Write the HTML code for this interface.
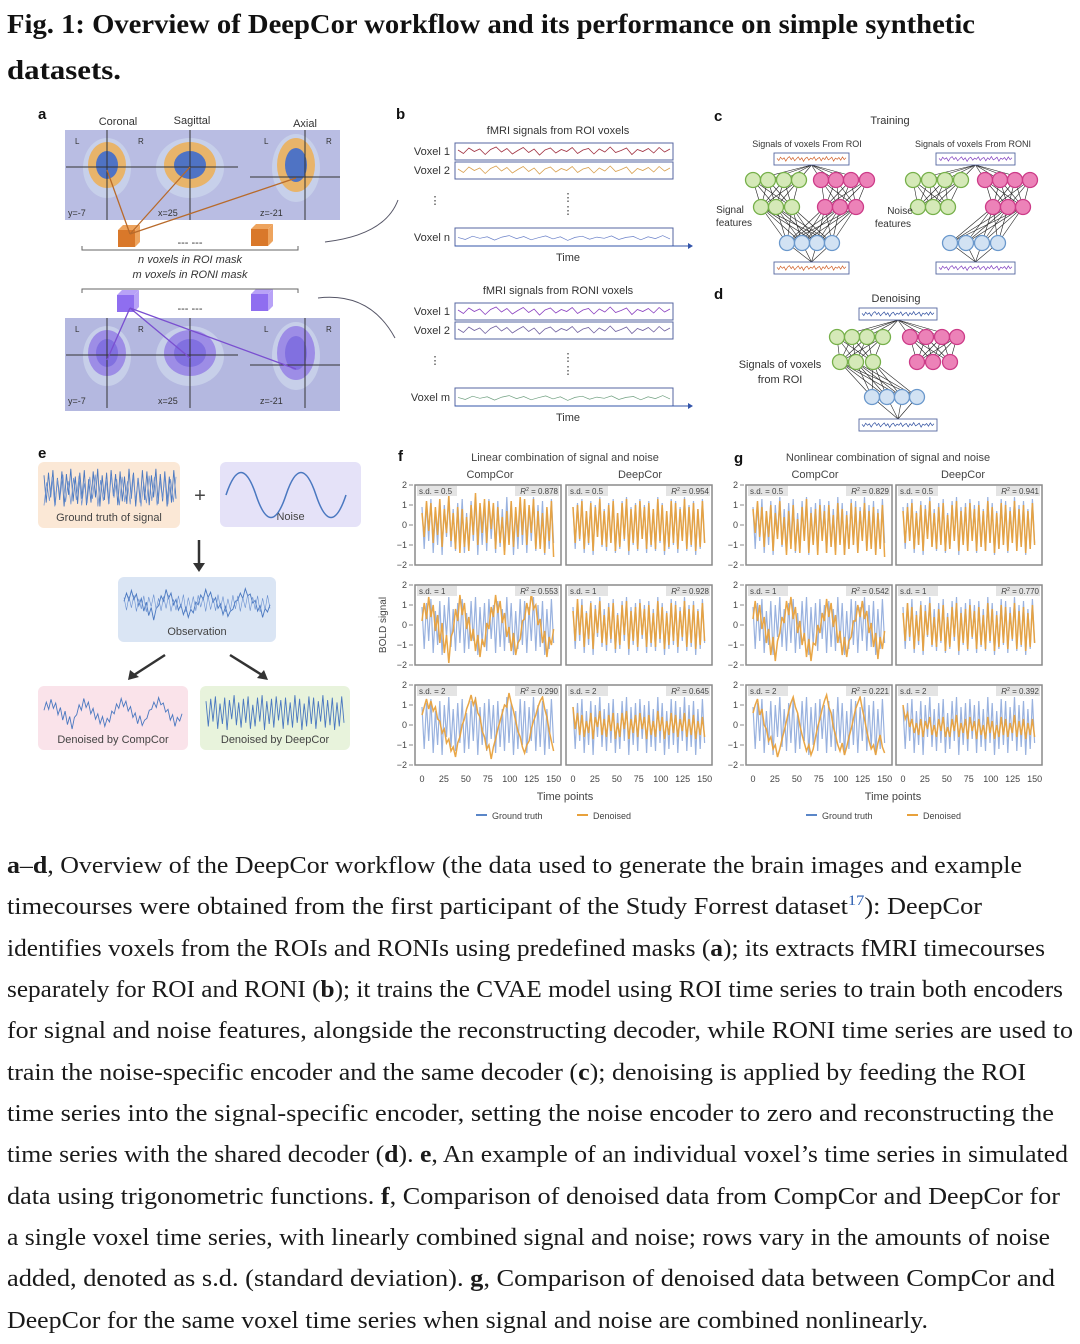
<!DOCTYPE html>
<html><head><meta charset="utf-8"><style>
html,body{margin:0;padding:0;background:#fff;}
svg{display:block;}
.sans{font-family:"Liberation Sans",sans-serif;}
.serif{font-family:"Liberation Serif",serif;}
</style></head><body>
<svg id="fig" width="1080" height="1344" viewBox="0 0 1080 1344" xmlns="http://www.w3.org/2000/svg">
<g class="serif" font-weight="bold" font-size="27" fill="#111">
<text x="7" y="33" textLength="968" lengthAdjust="spacingAndGlyphs">Fig. 1: Overview of DeepCor workflow and its performance on simple synthetic</text>
<text x="7" y="79" textLength="114" lengthAdjust="spacingAndGlyphs">datasets.</text>
</g>
<g class="sans" font-weight="bold" font-size="15" fill="#111">
<text x="38" y="119">a</text><text x="396" y="119">b</text><text x="714" y="121">c</text><text x="714" y="299">d</text>
<text x="38" y="458">e</text><text x="398" y="461">f</text><text x="734" y="463">g</text>
</g>
<g id="panelA" class="sans" font-size="11" fill="#333"></g>
<g id="panelB" class="sans" font-size="11" fill="#333"></g>
<g id="panelCD" class="sans" font-size="10" fill="#333"></g>
<g id="panelE" class="sans" font-size="11" fill="#444"></g>
<g id="charts" class="sans" font-size="9" fill="#444"></g>
<g class="serif" font-size="24" fill="#1a1a1a">
<text x="7" y="873" textLength="1015" lengthAdjust="spacingAndGlyphs"><tspan font-weight="bold">a</tspan>–<tspan font-weight="bold">d</tspan>, Overview of the DeepCor workflow (the data used to generate the brain images and example</text>
<text x="7" y="914" textLength="975" lengthAdjust="spacingAndGlyphs">timecourses were obtained from the first participant of the Study Forrest dataset<tspan fill="#2a5db0" font-size="15" dy="-9">17</tspan><tspan dy="9">): DeepCor</tspan></text>
<text x="7" y="956" textLength="1038" lengthAdjust="spacingAndGlyphs">identifies voxels from the ROIs and RONIs using predefined masks (<tspan font-weight="bold">a</tspan>); its extracts fMRI timecourses</text>
<text x="7" y="997" textLength="1056" lengthAdjust="spacingAndGlyphs">separately for ROI and RONI (<tspan font-weight="bold">b</tspan>); it trains the CVAE model using ROI time series to train both encoders</text>
<text x="7" y="1038" textLength="1066" lengthAdjust="spacingAndGlyphs">for signal and noise features, alongside the reconstructing decoder, while RONI time series are used to</text>
<text x="7" y="1080" textLength="1019" lengthAdjust="spacingAndGlyphs">train the noise-specific encoder and the same decoder (<tspan font-weight="bold">c</tspan>); denoising is applied by feeding the ROI</text>
<text x="7" y="1121" textLength="1047" lengthAdjust="spacingAndGlyphs">time series into the signal-specific encoder, setting the noise encoder to zero and reconstructing the</text>
<text x="7" y="1162" textLength="1061" lengthAdjust="spacingAndGlyphs">time series with the shared decoder (<tspan font-weight="bold">d</tspan>). <tspan font-weight="bold">e</tspan>, An example of an individual voxel’s time series in simulated</text>
<text x="7" y="1204" textLength="1053" lengthAdjust="spacingAndGlyphs">data using trigonometric functions. <tspan font-weight="bold">f</tspan>, Comparison of denoised data from CompCor and DeepCor for</text>
<text x="7" y="1245" textLength="1043" lengthAdjust="spacingAndGlyphs">a single voxel time series, with linearly combined signal and noise; rows vary in the amounts of noise</text>
<text x="7" y="1286" textLength="1048" lengthAdjust="spacingAndGlyphs">added, denoted as s.d. (standard deviation). <tspan font-weight="bold">g</tspan>, Comparison of denoised data between CompCor and</text>
<text x="7" y="1328" textLength="921" lengthAdjust="spacingAndGlyphs">DeepCor for the same voxel time series when signal and noise are combined nonlinearly.</text>
</g>
</svg>
<script>
// ---- chart data (panels f and g) ----
const timeTicks = [0,25,50,75,100,125,150];
const yTicks = [2,1,0,-1,-2];
const sdLabels = ["0.5","1","2"];
const r2Linear = {compcor:["0.878","0.553","0.290"], deepcor:["0.954","0.928","0.645"]};
const r2Nonlinear = {compcor:["0.829","0.542","0.221"], deepcor:["0.941","0.770","0.392"]};
const groundTruth = [0.9,-1.2,1.1,-0.8,1.3,-1.4,0.7,-1.0,1.2,-1.5,1.0,-0.6,1.4,-1.1,0.8,-1.3,1.1,-0.9,1.3,-1.4,0.6,-1.2,1.2,-0.8,1.4,-1.5,0.9,-1.0,1.1,-1.3,1.3,-0.7,1.0,-1.4,1.2,-1.1,0.8,-1.3,1.4,-0.9,1.1,-1.5,0.7,-1.2,1.3,-1.0,1.2,-1.4,0.9,-0.8,1.4,-1.3,1.0,-1.1,1.2,-1.5,0.8,-1.2,1.3,-0.9];
const fCompCor05 = [0.6,-0.6,1.2,-0.3,1.1,-0.9,0.9,-0.5,1.3,-1.1,0.8,-0.4,1.5,-0.8,0.6,-1.2,0.9,-1.4,0.8,-1.1,0.4,-1.3,1.0,-0.5,1.6,-1.0,1.1,-0.4,1.3,-0.9,1.2,-0.2,1.1,-1.2,0.9,-0.9,0.4,-1.5,0.7,-1.0,1.2,-1.1,0.9,-0.6,1.4,-0.5,1.3,-1.0,1.0,-0.4,1.3,-1.2,0.7,-1.2,0.6,-1.4,0.9,-0.8,1.2,-1.6];
const fDeepCor05 = [0.9,-0.9,1.0,-0.7,1.2,-1.2,0.7,-0.9,1.1,-1.3,0.9,-0.6,1.3,-1.0,0.7,-1.1,1.0,-0.9,1.2,-1.3,0.6,-1.1,1.1,-0.7,1.3,-1.3,0.8,-0.9,1.0,-1.2,1.2,-0.7,0.9,-1.2,1.1,-1.0,0.8,-1.2,1.3,-0.8,1.0,-1.3,0.7,-1.1,1.2,-0.9,1.1,-1.2,0.8,-0.8,1.3,-1.2,0.9,-1.0,1.1,-1.3,0.8,-1.1,1.2,-0.9];
const fCompCor1 = [0.2,1.1,0.3,1.4,0.4,1.0,-0.3,0.5,-0.9,0.1,-1.4,-0.5,-1.9,-0.6,-0.3,0.8,0.2,1.5,0.5,1.1,-0.2,0.4,-0.8,-0.2,-1.3,-0.5,-1.6,-0.7,-1.1,0.1,-0.2,0.9,0.4,1.5,0.6,1.2,0.1,0.6,-0.6,-0.1,-1.3,-0.4,-1.5,-0.9,-0.7,0.2,0.3,1.1,0.5,1.6,0.8,1.0,0.0,0.3,-0.9,-0.3,-1.6,-0.6,-1.0,-0.2];
const fDeepCor1 = [0.7,-0.8,1.3,-0.5,1.0,-1.1,0.6,-0.7,1.1,-1.2,0.8,-0.4,1.2,-0.9,0.5,-1.0,0.9,-0.7,1.1,-1.2,0.5,-1.0,1.0,-0.5,1.2,-1.2,0.7,-0.8,0.9,-1.1,1.1,-0.5,0.8,-1.1,1.0,-0.9,0.6,-1.1,1.2,-0.7,0.9,-1.2,0.6,-1.0,1.1,-0.8,1.0,-1.1,0.7,-0.6,1.2,-1.1,0.8,-0.9,1.0,-1.2,0.7,-1.0,1.1,-0.8];
const fCompCor2 = [0.5,0.9,1.3,0.8,1.2,0.7,0.9,0.3,0.2,-0.4,-0.2,-0.9,-0.7,-1.3,-1.1,-1.6,-0.9,-0.6,0.0,0.3,0.8,1.1,1.5,1.0,1.3,0.6,0.4,-0.3,-0.6,-1.2,-1.0,-1.7,-1.1,-0.7,-0.2,0.2,0.6,1.0,0.9,1.6,1.1,0.7,0.2,-0.3,-0.6,-1.1,-1.4,-1.0,-0.8,-0.2,0.2,0.5,0.9,1.2,1.4,0.8,0.4,-0.3,-0.8,-1.3];
const fDeepCor2 = [0.9,-0.2,0.6,-0.5,0.5,-0.6,0.2,-0.4,0.6,-0.7,0.4,-0.1,0.7,-0.5,0.3,-0.6,0.5,-0.3,0.6,-0.7,0.1,-0.6,0.6,-0.2,0.7,-0.7,0.3,-0.4,0.5,-0.6,0.6,-0.2,0.4,-0.7,0.5,-0.5,0.2,-0.6,0.7,-0.3,0.4,-0.7,0.2,-0.5,0.6,-0.4,0.5,-0.6,0.3,-0.3,0.6,-0.6,0.3,-0.5,0.5,-0.7,0.2,-0.5,0.4,-0.6];
const gCompCor05 = [0.8,-0.4,1.2,-0.6,0.9,-1.1,0.7,-0.6,1.0,-1.3,0.6,-0.7,1.2,-1.0,0.4,-1.5,0.7,-1.2,1.0,-1.3,0.3,-1.4,0.9,-0.8,1.3,-1.4,0.6,-1.0,0.8,-1.5,1.0,-0.8,0.7,-1.4,1.0,-1.1,0.5,-1.5,1.1,-1.0,0.8,-1.5,0.5,-1.2,1.1,-1.0,0.9,-1.4,0.7,-0.8,1.1,-1.3,0.7,-1.2,0.9,-1.5,0.6,-1.2,1.0,-1.6];
const gDeepCor05 = [0.7,-0.9,0.9,-0.8,1.1,-1.2,0.6,-1.0,1.0,-1.3,0.8,-0.7,1.2,-1.1,0.6,-1.2,0.9,-1.0,1.1,-1.3,0.5,-1.2,1.0,-0.8,1.2,-1.3,0.7,-1.0,0.9,-1.3,1.1,-0.8,0.8,-1.3,1.0,-1.1,0.7,-1.3,1.2,-0.9,0.9,-1.4,0.6,-1.2,1.1,-1.0,1.0,-1.3,0.7,-0.9,1.2,-1.3,0.8,-1.1,1.0,-1.4,0.7,-1.2,1.1,-1.0];
const gCompCor1 = [0.3,1.2,0.2,1.0,-0.2,0.4,-0.9,-0.2,-1.5,-0.6,-1.8,-0.8,-0.4,0.4,0.1,1.2,0.5,1.4,0.3,0.9,-0.4,0.2,-1.0,-0.4,-1.6,-0.7,-1.8,-0.9,-1.0,0.0,-0.4,0.6,0.2,1.3,0.4,1.1,-0.1,0.5,-0.9,-0.3,-1.5,-0.6,-1.6,-0.8,-0.6,0.2,0.2,1.0,0.4,1.2,0.3,0.7,-0.4,0.1,-1.1,-0.4,-1.7,-0.6,-1.2,-0.3];
const gDeepCor1 = [0.6,-0.8,1.1,-0.6,0.9,-1.2,0.5,-0.8,1.0,-1.3,0.7,-0.5,1.1,-1.0,0.4,-1.1,0.8,-0.8,1.0,-1.3,0.4,-1.1,0.9,-0.6,1.1,-1.3,0.6,-0.9,0.8,-1.2,1.0,-0.6,0.7,-1.2,0.9,-1.0,0.5,-1.2,1.1,-0.8,0.8,-1.3,0.5,-1.1,1.0,-0.9,0.9,-1.2,0.6,-0.7,1.1,-1.2,0.7,-1.0,0.9,-1.3,0.6,-1.1,1.0,-0.9];
const gCompCor2 = [0.6,1.0,1.3,0.5,0.8,0.0,-0.2,-0.8,-0.6,-1.2,-1.0,-1.6,-1.2,-0.7,-0.3,0.2,0.7,1.1,1.4,0.9,0.6,0.0,-0.5,-0.9,-1.3,-1.0,-1.5,-1.2,-0.6,-0.1,0.3,0.8,1.2,1.5,0.9,0.6,-0.1,-0.5,-1.0,-1.3,-0.9,-1.5,-1.1,-0.6,-0.2,0.3,0.8,1.1,1.4,0.8,0.3,-0.3,-0.8,-1.2,-1.0,-1.5,-0.9,-0.5,-1.1,-1.4];
const gDeepCor2 = [1.0,0.3,0.6,-0.1,0.3,-0.4,0.1,-0.5,0.3,-0.6,0.2,-0.2,0.4,-0.5,0.0,-0.6,0.3,-0.3,0.4,-0.6,-0.1,-0.6,0.3,-0.3,0.5,-0.6,0.1,-0.4,0.3,-0.7,0.4,-0.3,0.2,-0.7,0.3,-0.5,0.0,-0.7,0.4,-0.4,0.2,-0.7,0.0,-0.6,0.4,-0.5,0.3,-0.6,0.1,-0.4,0.5,-0.6,0.2,-0.5,0.3,-0.7,0.1,-0.5,0.3,-0.6];
// decorative squiggle for diagram signal boxes
const squiggle = [0.2,-0.5,0.6,-0.1,0.4,-0.7,0.3,0.8,-0.2,0.5,-0.6,0.1,0.7,-0.3,0.4,-0.8,0.2,0.6,-0.4,0.3,-0.1,0.7,-0.5,0.2,0.5,-0.6,0.4,-0.2,0.8,-0.3,0.1,0.6,-0.7,0.3,-0.1,0.5,-0.4,0.7,-0.2,0.4];

const NS="http://www.w3.org/2000/svg";
function mk(parent,tag,attrs,text){const e=document.createElementNS(NS,tag);for(const k in attrs)e.setAttribute(k,attrs[k]);if(text!==undefined)e.textContent=text;parent.appendChild(e);return e;}
function wave(parent,data,x0,x1,yc,amp,color,w){
  let d="";data.forEach((v,i)=>{const x=x0+(x1-x0)*i/(data.length-1);const y=yc-v*amp;d+=(i?"L":"M")+x.toFixed(1)+" "+y.toFixed(1);});
  const p=mk(parent,"path",{d:d,fill:"none",stroke:color,"stroke-width":w||0.8});
  
  
  return p;
}

// ---- Panel A ----
(function(){
  const g=document.getElementById('panelA');
  mk(g,"text",{x:118,y:125,"text-anchor":"middle"},"Coronal");
  mk(g,"text",{x:192,y:124,"text-anchor":"middle"},"Sagittal");
  mk(g,"text",{x:305,y:127,"text-anchor":"middle"},"Axial");
  function brainRow(y0,roi){
    const r=mk(g,"rect",{x:65,y:y0,width:275,height:y0>200?93:90,fill:roi?"#b9bde3":"#b4b8e0"});
    
    
    const cx=[107,190,296];
    cx.forEach((x,i)=>{
      mk(g,"ellipse",{cx:x,cy:y0+38,rx:i==1?34:24,ry:i==2?34:30,fill:"#c9d2ea",opacity:0.9});
      mk(g,"ellipse",{cx:x,cy:y0+35,rx:i==1?26:19,ry:i==2?27:23,fill:roi?"#e8b46a":"#9d8de6"});
      mk(g,"ellipse",{cx:x,cy:y0+35,rx:i==1?16:11,ry:i==2?17:14,fill:roi?"#4f73c4":"#8170e0"});
    });
    [[107],[190],[305]].forEach((a,i)=>mk(g,"line",{x1:a[0],y1:y0,x2:a[0],y2:y0+90,stroke:"#333","stroke-width":1}));
    mk(g,"line",{x1:66,y1:y0+37,x2:147,y2:y0+37,stroke:"#333"});
    mk(g,"line",{x1:147,y1:y0+37,x2:238,y2:y0+37,stroke:"#333"});
    mk(g,"line",{x1:250,y1:y0+47,x2:340,y2:y0+47,stroke:"#333"});
    mk(g,"text",{x:75,y:y0+14,"font-size":8},"L");mk(g,"text",{x:138,y:y0+14,"font-size":8},"R");
    mk(g,"text",{x:264,y:y0+14,"font-size":8},"L");mk(g,"text",{x:326,y:y0+14,"font-size":8},"R");
    mk(g,"text",{x:68,y:y0+86,"font-size":9},"y=-7");mk(g,"text",{x:158,y:y0+86,"font-size":9},"x=25");mk(g,"text",{x:260,y:y0+86,"font-size":9},"z=-21");
  }
  brainRow(130,true); brainRow(318,false);
  function cube(x,y,c1,c2){mk(g,"rect",{x:x,y:y,width:17,height:17,fill:c1});mk(g,"polygon",{points:`${x},${y} ${x+5},${y-5} ${x+22},${y-5} ${x+17},${y}`,fill:c2});mk(g,"polygon",{points:`${x+17},${y} ${x+22},${y-5} ${x+22},${y+12} ${x+17},${y+17}`,fill:c2});}
  cube(118,230,"#d9782a","#eea45e");cube(251,229,"#d9782a","#eea45e");
  cube(117,295,"#8f6ef0","#b8a2f7");cube(251,294,"#8f6ef0","#b8a2f7");
  [[107,170],[190,167],[296,178]].forEach(p=>mk(g,"line",{x1:p[0],y1:p[1],x2:130,y2:234,stroke:"#b86a2a","stroke-width":1.3}));
  [[107,360],[190,358],[296,369]].forEach(p=>mk(g,"line",{x1:p[0],y1:p[1],x2:130,y2:308,stroke:"#7a4fd0","stroke-width":1.3}));
  mk(g,"text",{x:190,y:246,"text-anchor":"middle"},"--- ---");
  mk(g,"text",{x:190,y:312,"text-anchor":"middle"},"--- ---");
  mk(g,"path",{d:"M82 246 v4 h216 v-4",fill:"none",stroke:"#666"});
  mk(g,"path",{d:"M82 293 v-4 h216 v4",fill:"none",stroke:"#666"});
  mk(g,"text",{x:190,y:263,"text-anchor":"middle","font-style":"italic"},"n voxels in ROI mask");
  mk(g,"text",{x:190,y:278,"text-anchor":"middle","font-style":"italic"},"m voxels in RONI mask");
  mk(g,"path",{d:"M325 242 Q385 235 398 200",fill:"none",stroke:"#556","stroke-width":1});
  mk(g,"path",{d:"M318 298 Q370 292 395 338",fill:"none",stroke:"#556","stroke-width":1});
})();

// ---- Panel B ----
(function(){
  const g=document.getElementById('panelB');
  function block(y0,title,cols,lastLab,lastCol){
    mk(g,"text",{x:558,y:y0,"text-anchor":"middle"},title);
    [[y0+9,"Voxel 1",cols[0]],[y0+28,"Voxel 2",cols[1]]].forEach(r=>{
      mk(g,"rect",{x:455,y:r[0],width:218,height:17,fill:"#fff",stroke:"#5566a0","stroke-width":1});
      mk(g,"text",{x:450,y:r[0]+12,"text-anchor":"end"},r[1]);
      wave(g,squiggle,458,670,r[0]+8,5,r[2],0.8);
    });
    mk(g,"text",{x:435,y:y0+70,"text-anchor":"middle"},"⋮");
    mk(g,"text",{x:568,y:y0+67,"text-anchor":"middle"},"⋮");
    mk(g,"text",{x:568,y:y0+80,"text-anchor":"middle"},"⋮");
    mk(g,"rect",{x:455,y:y0+94,width:218,height:18,fill:"#fff",stroke:"#5566a0","stroke-width":1});
    mk(g,"path",{d:`M455 ${y0+112} H688`,stroke:"#3355aa","stroke-width":1});
    mk(g,"polygon",{points:`688,${y0+109} 693,${y0+112} 688,${y0+115}`,fill:"#3355aa"});
    mk(g,"text",{x:450,y:y0+107,"text-anchor":"end"},lastLab);
    wave(g,squiggle.slice(0,30),458,670,y0+104,3,lastCol,0.7);
    mk(g,"text",{x:568,y:y0+127,"text-anchor":"middle"},"Time");
  }
  block(134,"fMRI signals from ROI voxels",["#a03040","#d8a050"],"Voxel n","#6a80c8");
  block(294,"fMRI signals from RONI voxels",["#8a40c0","#7060a0"],"Voxel m","#70a080");
})();

// ---- Panels C & D ----
(function(){
  const g=document.getElementById('panelCD');
  const GF="#d5e9b8",GS="#76b04a",PF="#ec82b8",PS="#cc3b88",BF="#d2e2f3",BS="#6a98cc";
  function net(top,bot,gr1,pk1,gr2,pk2,bl,y1,y2,y3,links,sqCol){
    const ln=(a,b,c,d)=>mk(g,"line",{x1:a,y1:b,x2:c,y2:d,stroke:"#222","stroke-width":0.6});
    const tc=(top[0]+top[1])/2;
    [...gr1,...pk1].forEach(x=>ln(tc,top[2]+12,x,y1));
    gr1.forEach(a=>gr2.forEach(b=>ln(a,y1,b,y2)));
    pk1.forEach(a=>pk2.forEach(b=>ln(a,y1,b,y2)));
    if(links.g)gr2.forEach(a=>bl.forEach(b=>ln(a,y2,b,y3)));
    if(links.p)pk2.forEach(a=>bl.forEach(b=>ln(a,y2,b,y3)));
    if(bot){const bc=(bot[0]+bot[1])/2;bl.forEach(x=>ln(x,y3,bc,bot[2]));}
    const c=(x,y,f,s)=>mk(g,"circle",{cx:x,cy:y,r:7.5,fill:f,stroke:s,"stroke-width":1.3});
    gr1.forEach(x=>c(x,y1,GF,GS));pk1.forEach(x=>c(x,y1,PF,PS));
    gr2.forEach(x=>c(x,y2,GF,GS));pk2.forEach(x=>c(x,y2,PF,PS));
    bl.forEach(x=>c(x,y3,BF,BS));
    [top,bot].forEach(b=>{if(!b)return;mk(g,"rect",{x:b[0],y:b[2],width:b[1]-b[0],height:12,fill:"#fff",stroke:"#5566a0","stroke-width":0.9});wave(g,squiggle,b[0]+3,b[1]-3,b[2]+6,3,sqCol,0.7);});
  }
  mk(g,"text",{x:890,y:124,"text-anchor":"middle","font-size":11},"Training");
  mk(g,"text",{x:807,y:147,"text-anchor":"middle","font-size":9},"Signals of voxels From ROI");
  mk(g,"text",{x:973,y:147,"text-anchor":"middle","font-size":9},"Signals of voxels From RONI");
  net([774,849,153],[774,849,262],[753,768,784,799],[821,836,851,867],[761,776,792],[825,840,856],[787,802,817,832],180,207,243,{g:1,p:1},"#d0602a");
  net([936,1015,153],[936,1015,262],[913,929,945,961],[985,1000,1015,1030],[918,933,948],[993,1008,1023],[950,966,982,998],180,207,243,{p:1},"#8040c0");
  mk(g,"text",{x:730,y:213,"text-anchor":"middle"},"Signal");mk(g,"text",{x:734,y:226,"text-anchor":"middle"},"features");
  mk(g,"text",{x:900,y:214,"text-anchor":"middle"},"Noise");mk(g,"text",{x:893,y:227,"text-anchor":"middle"},"features");
  mk(g,"text",{x:896,y:302,"text-anchor":"middle","font-size":11},"Denoising");
  net([859,937,308],[859,937,419],[837,852,867,883],[910,926,942,957],[840,856,873],[917,933,950],[872,887,902,917],337,362,397,{g:1},"#3050a0");
  mk(g,"text",{x:780,y:368,"text-anchor":"middle","font-size":11},"Signals of voxels");
  mk(g,"text",{x:780,y:383,"text-anchor":"middle","font-size":11},"from ROI");
})();

// ---- Panel E ----
(function(){
  const g=document.getElementById('panelE');
  function box(x,y,w,h,fill,label,name){const r=mk(g,"rect",{x:x,y:y,width:w,height:h,rx:6,fill:fill});if(label)mk(g,"text",{x:x+w/2,y:y+h-7,"text-anchor":"middle"},label);return r;}
  box(38,462,142,66,"#fbe8d6","Ground truth of signal","ground-truth-box");
  wave(g,groundTruth,44,176,487,13,"#4a78c0",0.9);
  wave(g,groundTruth.slice(5,55),44,176,490,11,"#6a90d0",0.7);
  box(220,462,141,65,"#e5e2f8","Noise","noise-box");
  mk(g,"path",{d:"M226 495 C236 465 246 465 256 495 S276 525 286 495 S306 465 316 495 S336 525 346 495",fill:"none",stroke:"#4a78c0","stroke-width":1.5});
  mk(g,"text",{x:200,y:502,"text-anchor":"middle","font-size":20},"+");
  mk(g,"line",{x1:199,y1:540,x2:199,y2:565,stroke:"#333","stroke-width":2.5});
  mk(g,"polygon",{points:"193,563 205,563 199,572",fill:"#333"});
  box(118,577,158,65,"#dae5f4","Observation","observation-box");
  wave(g,fCompCor1,124,270,603,9,"#4a78c0",0.9);
  wave(g,groundTruth,124,270,603,6,"#6a90d0",0.6);
  mk(g,"line",{x1:165,y1:655,x2:134,y2:675,stroke:"#333","stroke-width":2.5});
  mk(g,"polygon",{points:"130,670 128,680 139,677",fill:"#333"});
  mk(g,"line",{x1:230,y1:655,x2:262,y2:675,stroke:"#333","stroke-width":2.5});
  mk(g,"polygon",{points:"257,678 268,680 264,670",fill:"#333"});
  box(38,686,150,64,"#fae3ea","Denoised by CompCor","denoised-compcor-box");
  wave(g,fCompCor1,44,182,712,9,"#4a78c0",0.9);
  box(200,686,150,64,"#e8f3dc","Denoised by DeepCor","denoised-deepcor-box");
  wave(g,groundTruth,206,344,712,12,"#4a78c0",0.9);
})();

// ---- Panels F & G charts ----
(function(){
  const g=document.getElementById('charts');
  const W=146,H=80;
  const rowsY=[485,585,685];
  function panel(x0,y0,gt,den,sd,r2,name){
    const pg=mk(g,"g",{});
    
    
    const xs=t=>x0+7+t/155*(W-10);
    const ys=v=>y0+(2-v)/4*H;
    const line=(data,col,w,op)=>{let d="";data.forEach((v,i)=>{const t=i*150/(data.length-1);d+=(i?"L":"M")+xs(t).toFixed(1)+" "+ys(v).toFixed(1);});
      const p=mk(pg,"path",{d:d,fill:"none",stroke:col,"stroke-width":w,opacity:op});return p;};
    const gl=line(gt,"#8eaadb",1.2,0.9);
    const dl=line(den,"#e8a13c",1.5,0.95);
    mk(pg,"rect",{x:x0+2,y:y0+1,width:40,height:10,fill:"#e4e4e4"});
    mk(pg,"text",{x:x0+4,y:y0+9,"font-size":8,fill:"#444"},"s.d. = "+sd);
    mk(pg,"rect",{x:x0+W-46,y:y0+1,width:44,height:10,fill:"#e4e4e4"});
    const t=mk(pg,"text",{x:x0+W-3,y:y0+9,"font-size":8,fill:"#444","text-anchor":"end"});
    t.innerHTML='<tspan font-style="italic">R</tspan><tspan dy="-3" font-size="5">2</tspan><tspan dy="3"> = '+r2+'</tspan>';
    mk(pg,"rect",{x:x0,y:y0,width:W,height:H,fill:"none",stroke:"#8a8a8a","stroke-width":1.5});
    return {xs,ys};
  }
  function yAxis(xl,y0){yTicks.forEach(v=>{const y=y0+(2-v)/4*H;mk(g,"text",{x:xl,y:y+3,"text-anchor":"end","font-size":9},v<0?"−"+(-v):String(v));mk(g,"line",{x1:xl+2,y1:y,x2:xl+6,y2:y,stroke:"#888"});});}
  function xAxis(x0,y){timeTicks.forEach(t=>{const x=x0+7+t/155*(W-10);mk(g,"text",{x:x,y:y,"text-anchor":"middle","font-size":9},String(t));});}
  const fDen=[[fCompCor05,fDeepCor05],[fCompCor1,fDeepCor1],[fCompCor2,fDeepCor2]];
  const gDen=[[gCompCor05,gDeepCor05],[gCompCor1,gDeepCor1],[gCompCor2,gDeepCor2]];
  rowsY.forEach((y0,r)=>{
    panel(415,y0,groundTruth,fDen[r][0],sdLabels[r],r2Linear.compcor[r],"f-compcor-sd-"+sdLabels[r]);
    panel(566,y0,groundTruth,fDen[r][1],sdLabels[r],r2Linear.deepcor[r],"f-deepcor-sd-"+sdLabels[r]);
    panel(746,y0,groundTruth,gDen[r][0],sdLabels[r],r2Nonlinear.compcor[r],"g-compcor-sd-"+sdLabels[r]);
    panel(896,y0,groundTruth,gDen[r][1],sdLabels[r],r2Nonlinear.deepcor[r],"g-deepcor-sd-"+sdLabels[r]);
    yAxis(407,y0);yAxis(738,y0);
  });
  [415,566,746,896].forEach(x=>xAxis(x,782));
  mk(g,"text",{x:565,y:461,"text-anchor":"middle","font-size":11},"Linear combination of signal and noise");
  mk(g,"text",{x:490,y:478,"text-anchor":"middle","font-size":11},"CompCor");
  mk(g,"text",{x:640,y:478,"text-anchor":"middle","font-size":11},"DeepCor");
  mk(g,"text",{x:888,y:461,"text-anchor":"middle","font-size":11},"Nonlinear combination of signal and noise");
  mk(g,"text",{x:815,y:478,"text-anchor":"middle","font-size":11},"CompCor");
  mk(g,"text",{x:963,y:478,"text-anchor":"middle","font-size":11},"DeepCor");
  const yl=mk(g,"text",{x:0,y:0,"text-anchor":"middle","font-size":10,transform:"translate(386,625) rotate(-90)"},"BOLD signal");
  
  
  [[565,"x-axis-title-f"],[893,"x-axis-title-g"]].forEach(a=>{const t=mk(g,"text",{x:a[0],y:800,"text-anchor":"middle","font-size":11},"Time points");});
  [[476,"f"],[806,"g"]].forEach(a=>{
    const lg=mk(g,"g",{});
    
    
    mk(lg,"line",{x1:a[0],y1:815,x2:a[0]+11,y2:815,stroke:"#5a86c8","stroke-width":2});
    mk(lg,"text",{x:a[0]+16,y:819,"font-size":9},"Ground truth");
    mk(lg,"line",{x1:a[0]+101,y1:815,x2:a[0]+112,y2:815,stroke:"#e8a13c","stroke-width":2});
    mk(lg,"text",{x:a[0]+117,y:819,"font-size":9},"Denoised");
  });
})();
</script>
</body></html>
